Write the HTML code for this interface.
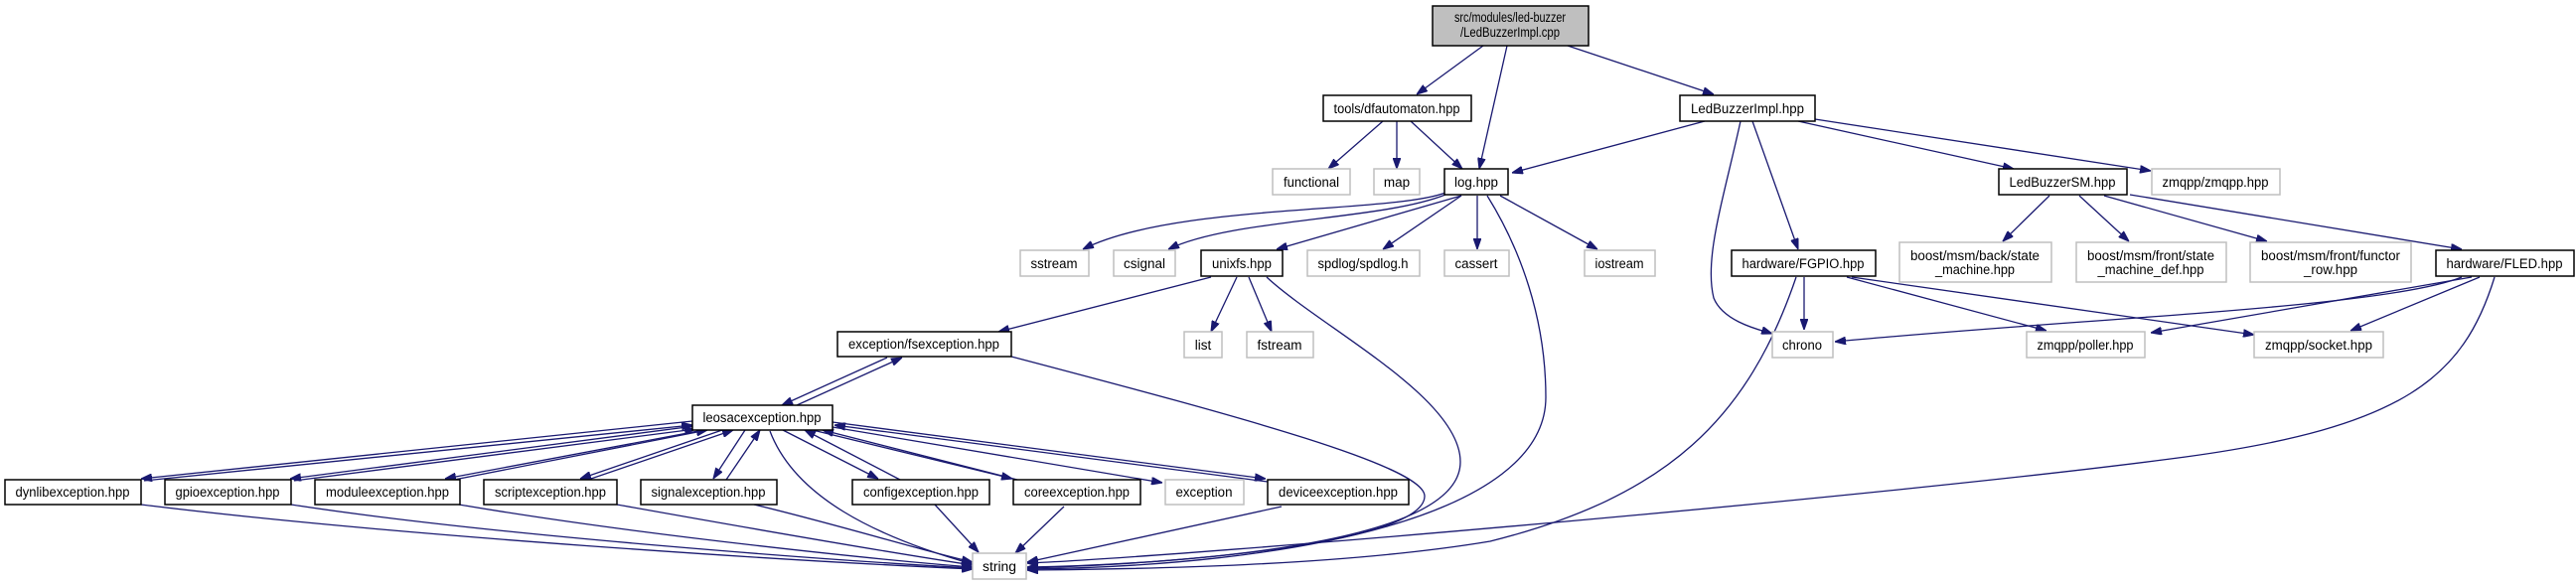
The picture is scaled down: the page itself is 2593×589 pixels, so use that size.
<!DOCTYPE html>
<html><head><meta charset="utf-8"><style>
html,body{margin:0;padding:0;background:#fff;width:2593px;height:589px;overflow:hidden}
svg{display:block}
text{font-family:"Liberation Sans",Arial,sans-serif;font-size:13.5px;fill:#000;text-anchor:middle}
.n{fill:#fff;stroke:#000;stroke-width:1.5}
.g{fill:#fff;stroke:#bfbfbf;stroke-width:1.5}
.e{fill:none;stroke:#191970;stroke-width:1.3;marker-end:url(#a)}
</style></head><body>
<svg width="2593" height="589" viewBox="0 0 2593 589" xmlns="http://www.w3.org/2000/svg">
<defs><marker id="a" markerUnits="userSpaceOnUse" markerWidth="11" markerHeight="8" viewBox="0 0 10 7" refX="10" refY="3.5" orient="auto"><path d="M0,0L10,3.5L0,7z" fill="#191970" stroke="#191970"/></marker></defs>

<!-- edges -->
<g>
<path class="e" d="M1493,46L1426,95"/>
<path class="e" d="M1517,46L1489,170"/>
<path class="e" d="M1578,46L1725,95"/>
<path class="e" d="M1392,122L1337,170"/>
<path class="e" d="M1406,122L1406,170"/>
<path class="e" d="M1420,122L1472,170"/>
<path class="e" d="M1716,122L1522,174"/>
<path class="e" d="M1752,122C1735,200 1715,260 1725,300C1735,325 1775,333 1784,336"/>
<path class="e" d="M1764,122L1810,251"/>
<path class="e" d="M1810,122L2027,170"/>
<path class="e" d="M1827,120L2165,172"/>
<path class="e" d="M1455,194C1400,215 1180,205 1090,251"/>
<path class="e" d="M1455,196C1390,222 1240,220 1176,251"/>
<path class="e" d="M1471,197L1285,251"/>
<path class="e" d="M1471,197L1392,251"/>
<path class="e" d="M1487,197L1487,251"/>
<path class="e" d="M1510,197L1608,251"/>
<path class="e" d="M1497,197C1530,250 1556,320 1556,400C1556,520 1300,570 1034,573"/>
<path class="e" d="M1219,279L1005,334"/>
<path class="e" d="M1245,279L1219,334"/>
<path class="e" d="M1257,279L1280,334"/>
<path class="e" d="M1275,279C1330,330 1470,400 1470,465C1470,540 1250,565 1034,572"/>
<path class="e" d="M1018,359C1250,420 1436,470 1434,500C1432,545 1200,568 1034,571"/>
<path class="e" d="M893,360L787,408"/>
<path class="e" d="M802,408L908,360"/>
<!-- leosac <-> exceptions -->
<path class="e" d="M697,424L142,482"/>
<path class="e" d="M145,484L697,428"/>
<path class="e" d="M699,429L292,482"/>
<path class="e" d="M296,484L700,432"/>
<path class="e" d="M708,433L448,482"/>
<path class="e" d="M452,484L712,433"/>
<path class="e" d="M727,433L584,482"/>
<path class="e" d="M592,483L738,433"/>
<path class="e" d="M750,433L718,482"/>
<path class="e" d="M731,483L765,433"/>
<path class="e" d="M788,433L884,482"/>
<path class="e" d="M906,483L810,433"/>
<path class="e" d="M818,433L1019,482"/>
<path class="e" d="M1024,483L828,433"/>
<path class="e" d="M838,430L1170,486"/>
<path class="e" d="M838,425L1274,482"/>
<path class="e" d="M1276,485L840,428"/>
<path class="e" d="M775,434C800,500 880,540 979,568"/>
<!-- exceptions -> string -->
<path class="e" d="M142,508C400,540 800,565 979,573"/>
<path class="e" d="M293,508C500,540 850,565 979,572"/>
<path class="e" d="M462,508C650,540 900,565 979,571"/>
<path class="e" d="M621,508C800,540 920,560 979,569"/>
<path class="e" d="M759,508C850,530 930,555 979,566"/>
<path class="e" d="M941,508L985,556"/>
<path class="e" d="M1071,510L1022,557"/>
<path class="e" d="M1290,510L1034,566"/>
<!-- right side -->
<path class="e" d="M2063,197L2016,243"/>
<path class="e" d="M2093,197L2143,243"/>
<path class="e" d="M2118,197L2282,243"/>
<path class="e" d="M2144,196L2478,251"/>
<path class="e" d="M1816,279L1816,332"/>
<path class="e" d="M1859,279L2060,333"/>
<path class="e" d="M1864,279L2269,337"/>
<path class="e" d="M1808,279C1760,420 1680,500 1500,545C1350,570 1150,573 1034,574"/>
<path class="e" d="M2478,279C2400,310 2100,320 1847,344"/>
<path class="e" d="M2488,279L2165,335"/>
<path class="e" d="M2496,279L2366,333"/>
<path class="e" d="M2511,279C2480,380 2420,430 2200,460C1900,500 1200,560 1034,567"/>
</g>

<!-- nodes -->
<rect x="1442" y="6" width="157" height="40" fill="#bfbfbf" stroke="#000" stroke-width="1.5"/>
<text x="1520" y="22" textLength="112" lengthAdjust="spacingAndGlyphs">src/modules/led-buzzer</text>
<text x="1520" y="37" textLength="100" lengthAdjust="spacingAndGlyphs">/LedBuzzerImpl.cpp</text>

<rect class="n" x="1332" y="96" width="149" height="26"/><text x="1406" y="114" textLength="127" lengthAdjust="spacingAndGlyphs">tools/dfautomaton.hpp</text>
<rect class="n" x="1691" y="96" width="136" height="26"/><text x="1759" y="114" textLength="114" lengthAdjust="spacingAndGlyphs">LedBuzzerImpl.hpp</text>

<rect class="g" x="1281" y="170" width="78" height="26"/><text x="1320" y="188" textLength="56" lengthAdjust="spacingAndGlyphs">functional</text>
<rect class="g" x="1383" y="170" width="46" height="26"/><text x="1406" y="188">map</text>
<rect class="n" x="1454" y="170" width="64" height="26"/><text x="1486" y="188" textLength="44" lengthAdjust="spacingAndGlyphs">log.hpp</text>
<rect class="n" x="2012" y="170" width="129" height="26"/><text x="2076" y="188" textLength="107" lengthAdjust="spacingAndGlyphs">LedBuzzerSM.hpp</text>
<rect class="g" x="2166" y="170" width="129" height="26"/><text x="2230" y="188" textLength="107" lengthAdjust="spacingAndGlyphs">zmqpp/zmqpp.hpp</text>

<rect class="g" x="1027" y="252" width="69" height="26"/><text x="1061" y="270" textLength="47" lengthAdjust="spacingAndGlyphs">sstream</text>
<rect class="g" x="1121" y="252" width="62" height="26"/><text x="1152" y="270" textLength="42" lengthAdjust="spacingAndGlyphs">csignal</text>
<rect class="n" x="1209" y="252" width="82" height="26"/><text x="1250" y="270" textLength="60" lengthAdjust="spacingAndGlyphs">unixfs.hpp</text>
<rect class="g" x="1316" y="252" width="113" height="26"/><text x="1372" y="270" textLength="91" lengthAdjust="spacingAndGlyphs">spdlog/spdlog.h</text>
<rect class="g" x="1454" y="252" width="65" height="26"/><text x="1486" y="270" textLength="43" lengthAdjust="spacingAndGlyphs">cassert</text>
<rect class="g" x="1595" y="252" width="71" height="26"/><text x="1630" y="270" textLength="49" lengthAdjust="spacingAndGlyphs">iostream</text>
<rect class="n" x="1743" y="252" width="145" height="26"/><text x="1815" y="270" textLength="123" lengthAdjust="spacingAndGlyphs">hardware/FGPIO.hpp</text>
<rect class="g" x="1912" y="244" width="153" height="40"/><text x="1988" y="262" textLength="130" lengthAdjust="spacingAndGlyphs">boost/msm/back/state</text><text x="1988" y="276" textLength="80" lengthAdjust="spacingAndGlyphs">_machine.hpp</text>
<rect class="g" x="2090" y="244" width="151" height="40"/><text x="2165" y="262" textLength="128" lengthAdjust="spacingAndGlyphs">boost/msm/front/state</text><text x="2165" y="276" textLength="107" lengthAdjust="spacingAndGlyphs">_machine_def.hpp</text>
<rect class="g" x="2265" y="244" width="162" height="40"/><text x="2346" y="262" textLength="140" lengthAdjust="spacingAndGlyphs">boost/msm/front/functor</text><text x="2346" y="276" textLength="54" lengthAdjust="spacingAndGlyphs">_row.hpp</text>
<rect class="n" x="2452" y="252" width="139" height="26"/><text x="2521" y="270" textLength="117" lengthAdjust="spacingAndGlyphs">hardware/FLED.hpp</text>

<rect class="n" x="843" y="334" width="175" height="25"/><text x="930" y="351" textLength="152" lengthAdjust="spacingAndGlyphs">exception/fsexception.hpp</text>
<rect class="g" x="1192" y="334" width="38" height="26"/><text x="1211" y="352">list</text>
<rect class="g" x="1255" y="334" width="67" height="26"/><text x="1288" y="352" textLength="45" lengthAdjust="spacingAndGlyphs">fstream</text>
<rect class="g" x="1784" y="334" width="61" height="26"/><text x="1814" y="352" textLength="40" lengthAdjust="spacingAndGlyphs">chrono</text>
<rect class="g" x="2040" y="334" width="119" height="26"/><text x="2099" y="352" textLength="97" lengthAdjust="spacingAndGlyphs">zmqpp/poller.hpp</text>
<rect class="g" x="2269" y="334" width="130" height="26"/><text x="2334" y="352" textLength="108" lengthAdjust="spacingAndGlyphs">zmqpp/socket.hpp</text>

<rect class="n" x="697" y="408" width="141" height="25"/><text x="767" y="425" textLength="119" lengthAdjust="spacingAndGlyphs">leosacexception.hpp</text>

<rect class="n" x="5" y="483" width="137" height="25"/><text x="73" y="500" textLength="115" lengthAdjust="spacingAndGlyphs">dynlibexception.hpp</text>
<rect class="n" x="166" y="483" width="127" height="25"/><text x="229" y="500" textLength="105" lengthAdjust="spacingAndGlyphs">gpioexception.hpp</text>
<rect class="n" x="317" y="483" width="146" height="25"/><text x="390" y="500" textLength="124" lengthAdjust="spacingAndGlyphs">moduleexception.hpp</text>
<rect class="n" x="487" y="483" width="134" height="25"/><text x="554" y="500" textLength="112" lengthAdjust="spacingAndGlyphs">scriptexception.hpp</text>
<rect class="n" x="645" y="483" width="137" height="25"/><text x="713" y="500" textLength="115" lengthAdjust="spacingAndGlyphs">signalexception.hpp</text>
<rect class="n" x="858" y="483" width="138" height="25"/><text x="927" y="500" textLength="116" lengthAdjust="spacingAndGlyphs">configexception.hpp</text>
<rect class="n" x="1020" y="483" width="128" height="25"/><text x="1084" y="500" textLength="106" lengthAdjust="spacingAndGlyphs">coreexception.hpp</text>
<rect class="g" x="1173" y="483" width="79" height="25"/><text x="1212" y="500" textLength="57" lengthAdjust="spacingAndGlyphs">exception</text>
<rect class="n" x="1276" y="483" width="142" height="25"/><text x="1347" y="500" textLength="120" lengthAdjust="spacingAndGlyphs">deviceexception.hpp</text>

<rect class="g" x="979" y="557" width="54" height="26"/><text x="1006" y="575" textLength="34" lengthAdjust="spacingAndGlyphs">string</text>
</svg>
</body></html>
